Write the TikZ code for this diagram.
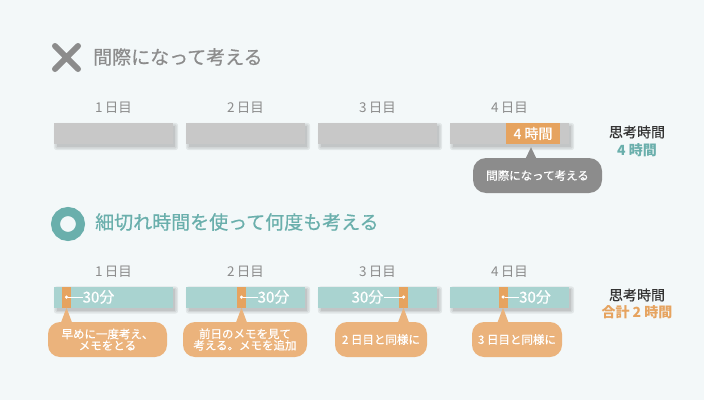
\documentclass[tikz,border=0pt]{standalone}
\usepackage{fontspec}
\setmainfont{Noto Sans CJK JP}
\newfontfamily\medfont[FakeBold=0.6]{Noto Sans CJK JP}
\usetikzlibrary{positioning, calc, backgrounds}
\definecolor{panelbg}{HTML}{F3F8F9}
\definecolor{muted}{HTML}{8C8C8C}
\definecolor{bargray}{HTML}{C8C8C8}
\definecolor{barteal}{HTML}{A9D3D0}
\definecolor{accent}{HTML}{6AAFAC}
\definecolor{accent2}{HTML}{E6A35F}
\definecolor{softorange}{HTML}{EBB37C}
\definecolor{inkdark}{HTML}{333333}
\newcommand{\fs}[1]{\fontsize{#1}{#1}\selectfont}
\tikzset{
  daylabel/.style={font=\fs{13.5}, text=muted},
  daybar/.style={minimum width=119pt, minimum height=21pt, inner sep=0pt},
  barshadow/.style={black, opacity=0.07},
  memobox/.style={rounded corners=12pt, minimum height=35pt, inner sep=0pt, text=white,
    align=center, font=\medfont\fs{11.5}},
  tinydot/.style={circle, fill=white, inner sep=0pt, minimum size=3.5pt},
}

\begin{document}
\begin{tikzpicture}[x=1pt, y=-1pt]
\useasboundingbox (0,0) rectangle (710,407);
\begin{scope}[on background layer]
  \fill[white] (0,0) rectangle (710,407);
  \fill[panelbg] (0,0) rectangle (704,400);
\end{scope}

% --- cramming at the last minute
\draw[muted, line width=6pt, line cap=round] (55,46) -- (78,69) (55,69) -- (78,46);
\node[anchor=west, inner sep=0pt, font=\medfont\fs{19}, text=muted] (title1) at (93,57) {間際になって考える};

\foreach \i in {0,1,2,3} {
  \pgfmathtruncatemacro{\d}{\i+1}
  \node[daylabel] (d\i) at ({113.5+132*\i},108) {\d\,日目};
  \node[daybar, fill=bargray] (g\i) at ({113.5+132*\i},133.5) {};
}
\node[fill=accent2, minimum width=54pt, minimum height=21pt, inner sep=0pt, anchor=east,
  text=white, font=\medfont\fs{14}] (last) at ([xshift=-9pt]g3.east) {4 時間};
\node[rounded corners=13pt, fill=muted, minimum width=129pt, minimum height=35pt, inner sep=0pt,
  text=white, font=\medfont\fs{11.5}] (late) at (537.5,175.5) {間際になって考える};
\fill[muted] ($(last.south)+(-2,3)$) -- ($(last.south |- late.north)+(-8,2)$)
  -- ($(last.south |- late.north)+(4,2)$) -- cycle;

\node[font=\medfont\fs{14}, text=inkdark, inner sep=0pt] (sum1) at (637,132) {思考時間};
\node[font=\bfseries\fs{14}, text=accent, inner sep=0pt] (tot1) at (637,150) {4 時間};

% --- thinking in short slices
\draw[accent, line width=9pt] (68,224) circle (12.5pt);
\node[anchor=west, inner sep=0pt, font=\medfont\fs{19}, text=accent] (title2) at (95,222) {細切れ時間を使って何度も考える};

\foreach \i in {0,1,2,3} {
  \pgfmathtruncatemacro{\d}{\i+1}
  \node[daylabel] (e\i) at ({113.5+132*\i},272) {\d\,日目};
  \node[daybar, fill=barteal] (t\i) at ({113.5+132*\i},297) {};
}

\foreach \i/\sx/\cx/\cw/\memo in {
  0/66.5/107.5/119/{早めに一度考え、\\メモをとる},
  1/241.5/245/124/{前日のメモを見て\\考える。メモを追加},
  2/403.5/381/92/{2 日目と同様に},
  3/503/517/90/{3 日目と同様に}} {
  \node[fill=accent2, minimum width=9pt, minimum height=21pt, inner sep=0pt] (s\i) at (\sx,297) {};
  \node[tinydot] (p\i) at (s\i.center) {};
  \node[memobox, fill=softorange, minimum width=\cw pt] (m\i) at (\cx,339.5) {\memo};
  \fill[softorange] (s\i.south) -- ($(s\i.south |- m\i.north)+(-6,2)$)
    -- ($(s\i.south |- m\i.north)+(6,2)$) -- cycle;
}
\foreach \i/\w/\side in {0/16/west, 1/16/west, 2/-20/east, 3/16/west} {
  \node[anchor=\side, inner sep=0pt, text=white, font=\medfont\fs{15}] (h\i) at ($(p\i)+(\w,0)$) {30分};
  \draw[white, line width=0.8pt] (p\i) -- (h\i.\side);
}

\node[font=\medfont\fs{14}, text=inkdark, inner sep=0pt] (sum2) at (637,295) {思考時間};
\node[font=\bfseries\fs{14}, text=accent2, inner sep=0pt] (tot2) at (637,312) {合計 2 時間};

% soft shadows under the bars
\begin{scope}[on background layer]
  \foreach \b in {g0,g1,g2,g3,t0,t1,t2,t3}
    \foreach \e in {0,1.5,3}
      \fill[barshadow, rounded corners=\e pt] ($(\b.north west)+(3-\e,3-\e)$) rectangle ($(\b.south east)+(2+\e,3+\e)$);
\end{scope}
\end{tikzpicture}
\end{document}
